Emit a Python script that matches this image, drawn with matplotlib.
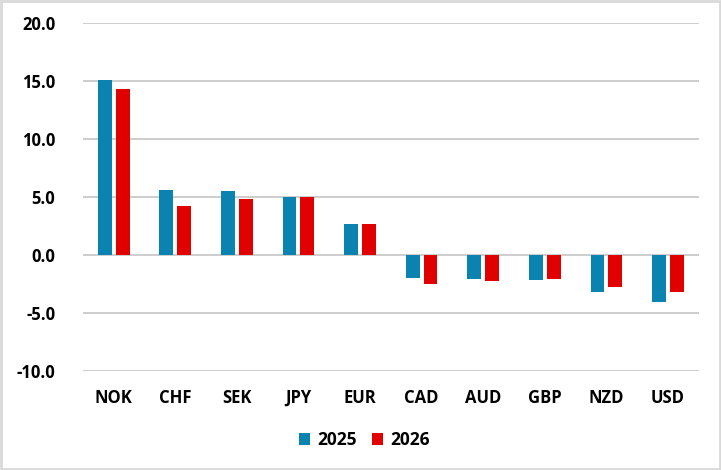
import matplotlib
matplotlib.use('Agg')
import matplotlib.pyplot as plt
import numpy as np
from matplotlib.patches import Patch

currencies = ['NOK', 'CHF', 'SEK', 'JPY', 'EUR', 'CAD', 'AUD', 'GBP', 'NZD', 'USD']
vals_2025 = [15.1, 5.6, 5.5, 4.95, 2.7, -2.0, -2.1, -2.2, -3.25, -4.1]
vals_2026 = [14.3, 4.2, 4.85, 5.0, 2.7, -2.5, -2.3, -2.1, -2.8, -3.25]
yticks = [-10, -5, 0, 5, 10, 15, 20]

BLUE = '#0A83B0'
RED = '#E00000'
GRID = '#C9C9C9'
FONT = 'Open Sans'

fig = plt.figure(figsize=(7.21, 4.70), dpi=100)
fig.patch.set_facecolor('white')
# light grey chart border
fig.add_artist(plt.Rectangle((0.002, 0.003), 0.996, 0.994, transform=fig.transFigure,
                             fill=False, edgecolor='#D9D9D9', linewidth=2))

ax = fig.add_axes([0.1151, 0.2113, 0.8540, 0.7397])
x = np.arange(len(currencies))
w = 0.225
ax.bar(x - 0.145, vals_2025, width=w, color=BLUE, zorder=3, label='2025')
ax.bar(x + 0.145, vals_2026, width=w, color=RED, zorder=3, label='2026')

ax.set_xlim(-0.5, len(currencies) - 0.5)
ax.set_ylim(-10, 20)
ax.set_yticks(yticks)
ax.set_yticklabels([f'{v:.1f}' for v in yticks], fontsize=12, fontweight='bold',
                   family=FONT)
ax.set_xticks(x)
ax.set_xticklabels(currencies, fontsize=12, fontweight='bold', family=FONT)
ax.tick_params(axis='y', length=0, pad=20)
ax.tick_params(axis='x', length=0, pad=13)
ax.grid(axis='y', color=GRID, linewidth=1.3, zorder=0)
for spine in ax.spines.values():
    spine.set_visible(False)

handles = [Patch(facecolor=BLUE, label='2025'), Patch(facecolor=RED, label='2026')]
fig.legend(handles=handles, loc='center', bbox_to_anchor=(0.505, 0.064), ncol=2,
           frameon=False, prop={'family': FONT, 'weight': 'bold', 'size': 12.5},
           handlelength=0.65, handleheight=0.65, handletextpad=0.4, columnspacing=0.9)

fig.savefig('out.png', dpi=100, facecolor='white')
